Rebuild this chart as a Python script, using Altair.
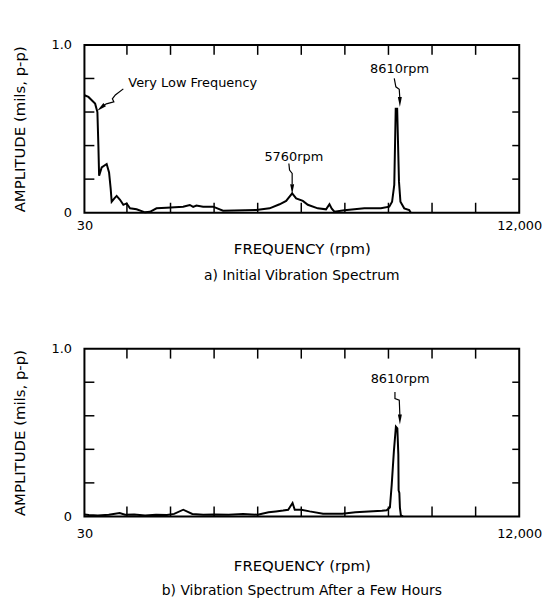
import altair as alt
import pandas as pd

FONT = "DejaVu Sans"
W, H = 438, 169

# ---- panel a) initial spectrum ----
rpm_a = [30, 140, 324, 387, 414, 434, 505, 642, 708, 752, 780, 854, 917, 1010, 1101,
         1191, 1285, 1466, 1697, 1834, 2015, 2290, 2748, 2932, 3023, 3113, 3297, 3572,
         3846, 4760, 5128, 5403, 5584, 5749, 5859, 6043, 6180, 6454, 6682, 6776, 6839,
         6913, 7187, 7736, 8192, 8423, 8500, 8560, 8600, 8640, 8690, 8730, 8834, 8972, 9016]
amp_a = [0.70, 0.69, 0.65, 0.60, 0.40, 0.22, 0.27, 0.29, 0.24, 0.145, 0.065, 0.085, 0.10,
         0.077, 0.047, 0.055, 0.026, 0.02, 0.002, 0.005, 0.026, 0.03, 0.036, 0.046, 0.035,
         0.043, 0.036, 0.036, 0.012, 0.016, 0.026, 0.05, 0.07, 0.115, 0.085, 0.07, 0.047,
         0.026, 0.02, 0.05, 0.024, 0.006, 0.014, 0.026, 0.026, 0.036, 0.065, 0.165, 0.62,
         0.62, 0.185, 0.065, 0.026, 0.016, 0.0]

# ---- panel b) after a few hours ----
rpm_b = [30, 150, 400, 700, 1000, 1150, 1400, 1700, 2000, 2300, 2500, 2750, 3000, 3300,
         3600, 4000, 4400, 4800, 5100, 5300, 5500, 5640, 5760, 5820, 6000, 6230, 6600,
         7130, 7490, 8220, 8350, 8440, 8490, 8550, 8605, 8645, 8672, 8680, 8700, 8715,
         8742, 8800]
amp_b = [0.012, 0.008, 0.006, 0.01, 0.02, 0.01, 0.012, 0.006, 0.01, 0.008, 0.015, 0.04,
         0.015, 0.01, 0.012, 0.01, 0.015, 0.01, 0.025, 0.03, 0.035, 0.04, 0.08, 0.04,
         0.04, 0.03, 0.016, 0.016, 0.025, 0.034, 0.037, 0.053, 0.19, 0.39, 0.535, 0.525,
         0.37, 0.155, 0.14, 0.053, 0.006, 0.0]

x_tick_vals = [1200, 2400, 3600, 4800, 6000, 7200, 8400, 9600, 10800]
y_tick_vals = [0.2, 0.4, 0.6, 0.8]
x_label_vals = [30, 12000]
y_label_vals = [0, 1]

# annotation arrows (data coordinates)
arrow_a_id = ["vlf"] * 6 + ["p1"] * 4 + ["p2"] * 4
arrow_a_rpm = [1101, 881, 799, 840, 634, 524, 5658, 5677, 5749, 5749, 8560, 8604, 8697, 8714]
arrow_a_amp = [0.738, 0.702, 0.679, 0.661, 0.649, 0.634, 0.293, 0.254, 0.234, 0.17,
               0.80, 0.75, 0.736, 0.68]
head_a_rpm = [483, 5749, 8714]
head_a_amp = [0.625, 0.14, 0.66]
head_a_ang = [50, 0, 0]

arrow_b_id = ["p2"] * 4
arrow_b_rpm = [8579, 8579, 8698, 8715]
arrow_b_amp = [0.741, 0.702, 0.693, 0.60]
head_b_rpm = [8715]
head_b_amp = [0.578]
head_b_ang = [0]

text_a_left = ["Very Low Frequency"]
text_a_left_rpm = [1238]
text_a_left_amp = [0.774]
text_a_mid = ["5760rpm", "8610rpm"]
text_a_mid_rpm = [5795, 8705]
text_a_mid_amp = [0.333, 0.859]

text_b_mid = ["8610rpm"]
text_b_mid_rpm = [8720]
text_b_mid_amp = [0.82]

XS = alt.Scale(domain=[30, 12000], nice=False, zero=False)
YS = alt.Scale(domain=[0, 1], nice=False, zero=False)
HEAD = "M-0.4,-1L0.4,-1L0,1Z"


def panel(rpm, amp, arr_id, arr_rpm, arr_amp, h_rpm, h_amp, h_ang,
          tl, tl_rpm, tl_amp, tm, tm_rpm, tm_amp, caption, xlab_pad, xtitle_pad, cap_off):
    xaxis = alt.Axis(values=x_label_vals, format=",d", ticks=False, domain=False,
                     grid=False, labelFlush=False, labelPadding=xlab_pad, labelFontSize=13,
                     title="FREQUENCY (rpm)", titleFontSize=15,
                     titleFontWeight="normal", titlePadding=xtitle_pad)
    yaxis = alt.Axis(values=y_label_vals,
                     labelExpr="datum.value == 0 ? '0' : '1.0'",
                     ticks=False, domain=False, grid=False, labelFlush=False,
                     labelPadding=13, labelFontSize=13,
                     title="AMPLITUDE (mils, p-p)", titleFontSize=15,
                     titleFontWeight="normal", titlePadding=24)
    xr = alt.X("rpm:Q", scale=XS, axis=xaxis)
    yr = alt.Y("amp:Q", scale=YS, axis=yaxis)

    curve = pd.DataFrame({"rpm": rpm, "amp": amp})
    base = alt.Chart(curve).mark_line(color="black", strokeWidth=2).encode(x=xr, y=yr)
    xt = pd.DataFrame({"rpm": x_tick_vals})
    yt = pd.DataFrame({"amp": y_tick_vals})
    t_top = alt.Chart(xt).mark_rule(color="black", strokeWidth=1.5).encode(
        x=xr, y=alt.value(0), y2=alt.value(10))
    t_bot = alt.Chart(xt).mark_rule(color="black", strokeWidth=1.5).encode(
        x=xr, y=alt.value(H), y2=alt.value(H - 10))
    t_left = alt.Chart(yt).mark_rule(color="black", strokeWidth=1.5).encode(
        y=yr, x=alt.value(0), x2=alt.value(10))
    t_right = alt.Chart(yt).mark_rule(color="black", strokeWidth=1.5).encode(
        y=yr, x=alt.value(W - 7), x2=alt.value(W))

    arr = pd.DataFrame({"id": arr_id, "rpm": arr_rpm, "amp": arr_amp,
                        "ord": list(range(len(arr_id)))})
    arrows = alt.Chart(arr).mark_line(color="black", strokeWidth=1.2).encode(
        x=xr, y=yr, detail="id:N", order="ord:Q")
    hd = pd.DataFrame({"rpm": h_rpm, "amp": h_amp, "ang": h_ang})
    heads = alt.Chart(hd).mark_point(shape=HEAD, filled=True, color="black", size=100,
                                     opacity=1, strokeWidth=0).encode(
        x=xr, y=yr, angle=alt.Angle("ang:Q", scale=None))
    layers = [base, t_top, t_bot, t_left, t_right, arrows, heads]
    if tl:
        tdl = pd.DataFrame({"t": tl, "rpm": tl_rpm, "amp": tl_amp})
        layers.append(alt.Chart(tdl).mark_text(font=FONT, fontSize=13, color="black",
                                               align="left", baseline="middle").encode(
            x=xr, y=yr, text="t:N"))
    tdm = pd.DataFrame({"t": tm, "rpm": tm_rpm, "amp": tm_amp})
    layers.append(alt.Chart(tdm).mark_text(font=FONT, fontSize=13, color="black",
                                           align="center", baseline="middle").encode(
        x=xr, y=yr, text="t:N"))
    return alt.layer(*layers).properties(
        width=W, height=H,
        title=alt.TitleParams(caption, orient="bottom", anchor="middle", fontSize=14,
                              fontWeight="normal", font=FONT, color="black",
                              offset=cap_off))


top = panel(rpm_a, amp_a, arrow_a_id, arrow_a_rpm, arrow_a_amp, head_a_rpm, head_a_amp,
            head_a_ang, text_a_left, text_a_left_rpm, text_a_left_amp,
            text_a_mid, text_a_mid_rpm, text_a_mid_amp,
            "a) Initial Vibration Spectrum", 7, 9, 13)
bot = panel(rpm_b, amp_b, arrow_b_id, arrow_b_rpm, arrow_b_amp, head_b_rpm, head_b_amp,
            head_b_ang, [], [], [], text_b_mid, text_b_mid_rpm, text_b_mid_amp,
            "b) Vibration Spectrum After a Few Hours", 11, 18, 11)

chart = alt.vconcat(top, bot, spacing=137, bounds="flush").properties(
    padding={"left": 3, "top": 28, "right": 5, "bottom": 0}
).configure(font=FONT).configure_view(stroke="black", strokeWidth=2).configure_axis(
    labelFont=FONT, titleFont=FONT, labelColor="black", titleColor="black"
)

chart.save("out.html", embed_options={"renderer": "svg", "actions": False})
